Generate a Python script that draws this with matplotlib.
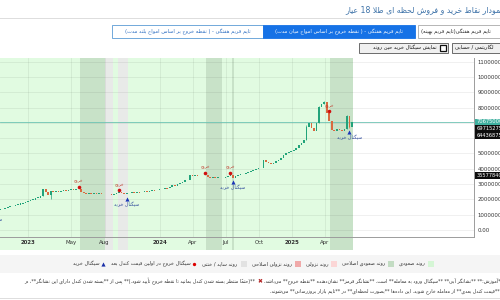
import datetime as dt
import matplotlib
matplotlib.use('Agg')
import matplotlib.pyplot as plt
import matplotlib.dates as mdates
from matplotlib.patches import Rectangle

plt.rcParams['font.family'] = ['DejaVu Sans']

# ---------------- data ----------------
title = 'نمودار نقاط خرید و فروش لحظه ای طلا 18 عیار'
buttons_row1 = ['تایم فریم هفتگی - ( نقطه خروج بر اساس امواج بلند مدت)',
                'تایم فریم هفتگی - ( نقطه خروج بر اساس امواج میان مدت)',
                'تایم فریم هفتگی(تایم فریم بهینه)']
buttons_row2 = ['نمایش سیگنال خرید حین روند', 'لگاریتمی / حسابی']
legend_labels = ['روند صعودی', 'روند صعودی اصلاحی', 'روند نزولی', 'روند نزولی اصلاحی',
                 'روند ساید / خنثی', 'سیگنال خروج در اولین قیمت کندل بعد', 'سیگنال خرید']
note_right = '**آموزش:** **نشانگر آبی** **سیگنال ورود به معامله** است. **نشانگر قرمز** نشان‌دهنده **نقطه خروج** می‌باشد.'
note_left = '**(حتماً منتظر بسته شدن کندل بمانید تا نقطه خروج تأیید شود.)** پس از **بسته شدن کندل دارای این نشانگر**، در'
note_line2 = '**قیمت کندل بعدی** از معامله خارج شوید. این داده‌ها **بصورت لحظه‌ای** در **تایم بازار بروزرسانی** می‌شوند.'
exit_label = 'خروج'
buy_label = 'سیگنال خرید'

first_week = dt.date(2022, 9, 18)      # weekly candles
first_open_m = 13.9                     # millions
closes_m = [13.4, 13.1, 12.9, 13.2,
            13.6, 13.9, 14.6, 14.8, 15.5, 15.7, 16.4, 16.6, 17.4, 17.6,
            18.4, 18.8, 19.6, 19.9, 20.9, 21.2, 22.1, 26.6, 25.0, 22.8,
            25.2, 25.0, 25.3, 25.1, 25.6, 25.9, 25.7, 26.2, 26.6, 26.4,
            26.9, 26.8, 25.0, 24.3, 23.8, 24.1, 23.6, 23.9, 23.5, 23.8,
            23.4, 23.7, 23.3, 23.6, 23.2, 23.5, 23.9, 24.6, 24.0, 23.3,
            24.0, 24.3, 24.6, 24.4, 24.8, 24.6, 25.0, 25.3, 25.1, 25.6,
            26.0, 25.8, 26.3, 26.6, 26.9, 27.4, 27.2, 27.9, 29.2, 28.6,
            29.9, 31.0, 31.5, 32.4, 32.8, 35.8, 35.5, 35.9, 35.7, 36.1,
            35.8, 36.2, 34.5, 34.0, 34.3, 33.9, 34.2, 33.8, 34.1, 34.6,
            35.3, 36.2, 34.2, 35.4, 36.0, 36.4, 36.9, 37.3, 37.8, 38.3,
            38.9, 39.6, 40.3, 40.8, 45.5, 44.6, 43.8, 43.4, 44.0, 44.9,
            46.0, 47.0, 48.8, 50.5, 51.0, 51.6, 52.3, 53.4, 55.5, 57.0,
            58.6, 67.3, 69.8, 66.5, 64.5, 70.0, 80.5, 82.2, 83.5, 76.5,
            71.3, 65.5, 65.0, 65.9, 65.3, 64.9, 65.7, 74.5, 67.6, 70.675]
extra_high_m = {21: 26.9, 125: 68.6, 130: 81.2, 132: 84.3, 141: 75.2}
extra_low_m = {24: 20.3, 142: 66.8}
exit_idx = [35, 51, 85, 95, 134]
buy_idx = [0, 54, 96, 142]
dark_bands = [(36, 45), (86, 91), (96, 96), (135, 143)]
side_bands = [(46, 48), (51, 54)]
price_levels = [70675000, 69715275, 64436875, 35577840]
tick_dates = [dt.date(2023, 1, 1), dt.date(2023, 5, 1), dt.date(2023, 8, 1), dt.date(2024, 1, 1),
              dt.date(2024, 4, 1), dt.date(2024, 7, 1), dt.date(2024, 10, 1), dt.date(2025, 1, 1),
              dt.date(2025, 4, 1)]
tick_labels = ['2023', 'May', 'Aug', '2024', 'Apr', 'Jul', 'Oct', '2025', 'Apr']
y_ticks = list(range(0, 110000001, 10000000))

# ---------------- Persian shaping helpers ----------------
FORMS = {
    '\u0622': ('\uFE81', '\uFE82', None, None), '\u0623': ('\uFE83', '\uFE84', None, None),
    '\u0627': ('\uFE8D', '\uFE8E', None, None), '\u0628': ('\uFE8F', '\uFE90', '\uFE91', '\uFE92'),
    '\u067E': ('\uFB56', '\uFB57', '\uFB58', '\uFB59'), '\u062A': ('\uFE95', '\uFE96', '\uFE97', '\uFE98'),
    '\u062B': ('\uFE99', '\uFE9A', '\uFE9B', '\uFE9C'), '\u062C': ('\uFE9D', '\uFE9E', '\uFE9F', '\uFEA0'),
    '\u0686': ('\uFB7A', '\uFB7B', '\uFB7C', '\uFB7D'), '\u062D': ('\uFEA1', '\uFEA2', '\uFEA3', '\uFEA4'),
    '\u062E': ('\uFEA5', '\uFEA6', '\uFEA7', '\uFEA8'), '\u062F': ('\uFEA9', '\uFEAA', None, None),
    '\u0630': ('\uFEAB', '\uFEAC', None, None), '\u0631': ('\uFEAD', '\uFEAE', None, None),
    '\u0632': ('\uFEAF', '\uFEB0', None, None), '\u0698': ('\uFB8A', '\uFB8B', None, None),
    '\u0633': ('\uFEB1', '\uFEB2', '\uFEB3', '\uFEB4'), '\u0634': ('\uFEB5', '\uFEB6', '\uFEB7', '\uFEB8'),
    '\u0635': ('\uFEB9', '\uFEBA', '\uFEBB', '\uFEBC'), '\u0636': ('\uFEBD', '\uFEBE', '\uFEBF', '\uFEC0'),
    '\u0637': ('\uFEC1', '\uFEC2', '\uFEC3', '\uFEC4'), '\u0638': ('\uFEC5', '\uFEC6', '\uFEC7', '\uFEC8'),
    '\u0639': ('\uFEC9', '\uFECA', '\uFECB', '\uFECC'), '\u063A': ('\uFECD', '\uFECE', '\uFECF', '\uFED0'),
    '\u0641': ('\uFED1', '\uFED2', '\uFED3', '\uFED4'), '\u0642': ('\uFED5', '\uFED6', '\uFED7', '\uFED8'),
    '\u06A9': ('\uFB8E', '\uFB8F', '\uFB90', '\uFB91'), '\u06AF': ('\uFB92', '\uFB93', '\uFB94', '\uFB95'),
    '\u0644': ('\uFEDD', '\uFEDE', '\uFEDF', '\uFEE0'), '\u0645': ('\uFEE1', '\uFEE2', '\uFEE3', '\uFEE4'),
    '\u0646': ('\uFEE5', '\uFEE6', '\uFEE7', '\uFEE8'), '\u0647': ('\uFEE9', '\uFEEA', '\uFEEB', '\uFEEC'),
    '\u0648': ('\uFEED', '\uFEEE', None, None), '\u06CC': ('\uFBFC', '\uFBFD', '\uFBFE', '\uFBFF'),
}
LAMALEF = {'\u0627': ('\uFEFB', '\uFEFC'), '\u0622': ('\uFEF5', '\uFEF6'), '\u0623': ('\uFEF7', '\uFEF8')}
TRANSPARENT = set('\u064B\u064C\u064D\u064E\u064F\u0650\u0651\u0652\u0654')
MIRROR = {'(': ')', ')': '(', '[': ']', ']': '['}


def shape(s):
    s = s.replace('\u064A', '\u06CC').replace('\u0643', '\u06A9')
    toks, i = [], 0
    while i < len(s):
        if s[i] == '\u0644' and i + 1 < len(s) and s[i + 1] in LAMALEF:
            toks.append(('LA', s[i + 1]))
            i += 2
        else:
            toks.append(s[i])
            i += 1

    def prev_joins(k):
        j = k - 1
        while j >= 0 and toks[j] in TRANSPARENT:
            j -= 1
        if j < 0 or isinstance(toks[j], tuple):
            return False
        f = FORMS.get(toks[j])
        return f is not None and f[2] is not None

    def next_letter(k):
        j = k + 1
        while j < len(toks) and toks[j] in TRANSPARENT:
            j += 1
        if j >= len(toks):
            return False
        return isinstance(toks[j], tuple) or toks[j] in FORMS

    out = []
    for k, t in enumerate(toks):
        if isinstance(t, tuple):
            iso, fin = LAMALEF[t[1]]
            out.append(fin if prev_joins(k) else iso)
            continue
        f = FORMS.get(t)
        if f is None:
            out.append(t)
            continue
        p = prev_joins(k)
        n = next_letter(k) and f[2] is not None
        out.append(f[3] if (p and n) else f[1] if p else f[2] if n else f[0])
    return [c for c in out if c != '\u200c']


def rtl(s):
    chars = shape(s)
    runs = []
    for c in chars:
        ltr = c.isascii() and c.isalnum()
        if runs and runs[-1][0] == ltr:
            runs[-1][1].append(c)
        else:
            runs.append([ltr, [c]])
    res = []
    for ltr, cs in reversed(runs):
        if ltr:
            res.extend(cs)
        else:
            cl = []
            for c in cs:
                if c in TRANSPARENT and cl:
                    cl[-1] += c
                else:
                    cl.append(c)
            res.extend(MIRROR.get(c, c) for c in reversed(cl))
    return ''.join(res)


# ---------------- figure ----------------
fig = plt.figure(figsize=(5, 3), dpi=100)
fig.patch.set_facecolor('white')

ax = fig.add_axes([0, 1 - 237 / 300, 474 / 500, (237 - 58) / 300])
ax.set_facecolor('white')

px_per_day = 0.3616
dates = [first_week + dt.timedelta(days=7 * k) for k in range(len(closes_m))]
xs = mdates.date2num(dates)
x_left = xs[4] - 0.44
x_right = x_left + 474 / px_per_day
ymin, ymax = -4.6e6, 112.4e6
ext = -13 / 179

up_color, down_color = '#22a37a', '#d9693f'

# background trend regions
ax.axvspan(x_left - 50, xs[-1] + 3.5, ymin=ext, ymax=1, color='#e1fbe1', lw=0, zorder=0, clip_on=False)
for k0, k1 in dark_bands:
    ax.axvspan(xs[k0] - 3.5, xs[k1] + 3.5, ymin=ext, ymax=1, color='#c8e2c8', lw=0, zorder=0.2, clip_on=False)
for k0, k1 in side_bands:
    ax.axvspan(xs[k0] - 3.5, xs[k1] + 3.5, ymin=ext, ymax=1, color='#e8eae8', lw=0, zorder=0.2, clip_on=False)

# grid
tick_x = mdates.date2num(tick_dates)
for v in y_ticks:
    ax.axhline(v, color='black', alpha=0.07, lw=0.6, zorder=1)
for tx in tick_x:
    ax.axvline(tx, color='black', alpha=0.07, lw=0.6, zorder=1)

ax.axhline(price_levels[0], color='#6cc3b3', lw=0.6, zorder=1.5)

# candles
opens_m = [first_open_m] + closes_m[:-1]
highs, lows = [], []
for k, (x, o, c) in enumerate(zip(xs, opens_m, closes_m)):
    col = up_color if c >= o else down_color
    lo, hi = min(o, c), max(o, c)
    h = max(hi - lo, 0.5)
    mid = (lo + hi) / 2
    ax.add_patch(Rectangle((x - 2.3, (mid - h / 2) * 1e6), 4.6, h * 1e6, fc=col, ec='none', zorder=4))
    wh = extra_high_m.get(k, hi)
    wl = extra_low_m.get(k, lo)
    if wh > hi or wl < lo:
        ax.vlines(x, wl * 1e6, wh * 1e6, color=col, lw=0.5, zorder=3.9)
    highs.append(max(wh, mid + h / 2))
    lows.append(min(wl, mid - h / 2))

# signals
for k in exit_idx:
    y = (highs[k] + 1.2) * 1e6
    ax.plot([xs[k]], [y], 'o', ms=2.6, color='#d10f0f', mec='none', zorder=6)
    ax.annotate(rtl(exit_label), (xs[k], y), xytext=(0, 2.2), textcoords='offset points',
                ha='center', va='bottom', fontsize=3.0, color='#c0392b', annotation_clip=False, zorder=6)
for k in buy_idx:
    y = (lows[k] - 2.8) * 1e6
    ax.plot([xs[k]], [y], '^', ms=3.0, color='#1a35b8', mec='none', zorder=6)
    ax.annotate(rtl(buy_label), (xs[k], y), xytext=(0, -2.5), textcoords='offset points',
                ha='center', va='top', fontsize=3.4, color='#2f4b9c', annotation_clip=False, zorder=6)

ax.set_xlim(x_left, x_right)
ax.set_ylim(ymin, ymax)
for s in ['top', 'left']:
    ax.spines[s].set_visible(False)
for s in ['right', 'bottom']:
    ax.spines[s].set_color('#9c9c9c')
    ax.spines[s].set_linewidth(0.7)
    ax.spines[s].set_zorder(7)


def to_py(v):
    return 300 - ax.transData.transform((x_left, v))[1]


# price level box positions (stacked so they do not overlap)
box_py = []
prev = -100
for v in price_levels:
    py = max(to_py(v), prev + 6.8)
    box_py.append(py)
    prev = py

ax.yaxis.tick_right()
ax.set_yticks(y_ticks)
ylabels = []
for v in y_ticks:
    covered = any(abs(to_py(v) - b) < 6.0 for b in box_py)
    ylabels.append('' if covered else f'{v:.2f}')
ax.set_yticklabels(ylabels)
ax.set_xticks(tick_x)
ax.set_xticklabels(tick_labels)
for lab in ax.get_xticklabels():
    if lab.get_text().isdigit():
        lab.set_fontweight('bold')
ax.tick_params(axis='y', length=0, pad=2.5, labelsize=3.9, labelcolor='#333333')
ax.tick_params(axis='x', length=0, pad=2.0, labelsize=3.9, labelcolor='#333333')

# ---------------- overlay (page elements) ----------------
ov = fig.add_axes([0, 0, 1, 1], zorder=10)
ov.set_xlim(0, 500)
ov.set_ylim(300, 0)
ov.axis('off')
ov.patch.set_visible(False)
renderer = fig.canvas.get_renderer()


def tw(t):
    return t.get_window_extent(renderer).width


for i, (v, py) in enumerate(zip(price_levels, box_py)):
    fc = '#3fb0a0' if i == 0 else '#0d0d0d'
    ov.add_patch(Rectangle((474.5, py - 3.2), 30, 6.4, fc=fc, ec='none', zorder=3))
    ov.text(477, py, f'{v:.2f}', ha='left', va='center', fontsize=3.7, color='white', zorder=4)

# title and separator
ov.text(503, 9.5, rtl(title), ha='right', va='center', fontsize=5.6, color='#3d72a8')
ov.plot([0, 500], [17.5, 17.5], color='#dddddd', lw=0.7)

# buttons row 1
btn1 = [(112, 263, 'white', '#5b9bd5', '#2a6cc0'),
        (263, 415, '#1672e6', '#1672e6', 'white'),
        (418, 520, 'white', '#aaaaaa', '#222222')]
for (x0, x1, fc, ec, tc), lab in zip(btn1, buttons_row1):
    ov.add_patch(Rectangle((x0, 25), x1 - x0, 13, fc=fc, ec=ec, lw=0.6))
    if x1 > 500:
        ov.text(421, 31.5, rtl(lab), ha='left', va='center', fontsize=3.7, color=tc)
    else:
        ov.text((x0 + x1) / 2, 31.5, rtl(lab), ha='center', va='center', fontsize=3.7, color=tc)

# buttons row 2
ov.add_patch(Rectangle((359, 42.5), 89, 10.5, fc='#f0f0f0', ec='#555555', lw=0.6))
ov.add_patch(Rectangle((440, 45), 6, 6, fc='white', ec='#111111', lw=0.9))
ov.text(437, 47.8, rtl(buttons_row2[0]), ha='right', va='center', fontsize=3.7, color='#111111')
ov.add_patch(Rectangle((452, 42.5), 60, 10.5, fc='#f0f0f0', ec='#555555', lw=0.6))
ov.text(455, 47.8, rtl(buttons_row2[1]), ha='left', va='center', fontsize=3.7, color='#111111')

# legend
ov.add_patch(Rectangle((0, 254.5), 500, 18, fc='#f5f5f5', ec='none', zorder=0))
legend_kinds = [('sw', '#d5f6d5'), ('sw', '#c3dcc3'), ('sw', '#fbd6d6'), ('sw', '#f0a9a9'),
                ('sw', '#e2e2e2'), ('dot', '#dd0000'), ('tri', '#1a2fa8')]
x = 434
ly = 263.5
for (kind, col), lab in zip(legend_kinds, legend_labels):
    if kind == 'sw':
        ov.add_patch(Rectangle((x - 6, ly - 3), 6, 6, fc=col, ec='none'))
        tx = x - 9
    elif kind == 'dot':
        ov.plot([x - 3], [ly], 'o', ms=2.4, color=col, mec='none')
        tx = x - 6.5
    else:
        ov.plot([x - 3], [ly], '^', ms=3.0, color=col, mec='none')
        tx = x - 6.5
    t = ov.text(tx, ly, rtl(lab), ha='right', va='center', fontsize=3.6, color='#333333')
    x = tx - tw(t) - 5

# notes
t1 = ov.text(503, 281.5, rtl(note_right), ha='right', va='center', fontsize=3.4, color='#333333')
xx = 503 - tw(t1) - 2
t2 = ov.text(xx, 281.5, '\u2716', ha='right', va='center', fontsize=4.2, color='#b22222', fontweight='bold')
xx = xx - tw(t2) - 2
ov.text(xx, 281.5, rtl(note_left), ha='right', va='center', fontsize=3.4, color='#333333')
ov.text(500, 291, rtl(note_line2), ha='right', va='center', fontsize=3.4, color='#333333')
ov.plot([0, 500], [298, 298], color='#dddddd', lw=0.7)

fig.savefig('out.png', dpi=100)
